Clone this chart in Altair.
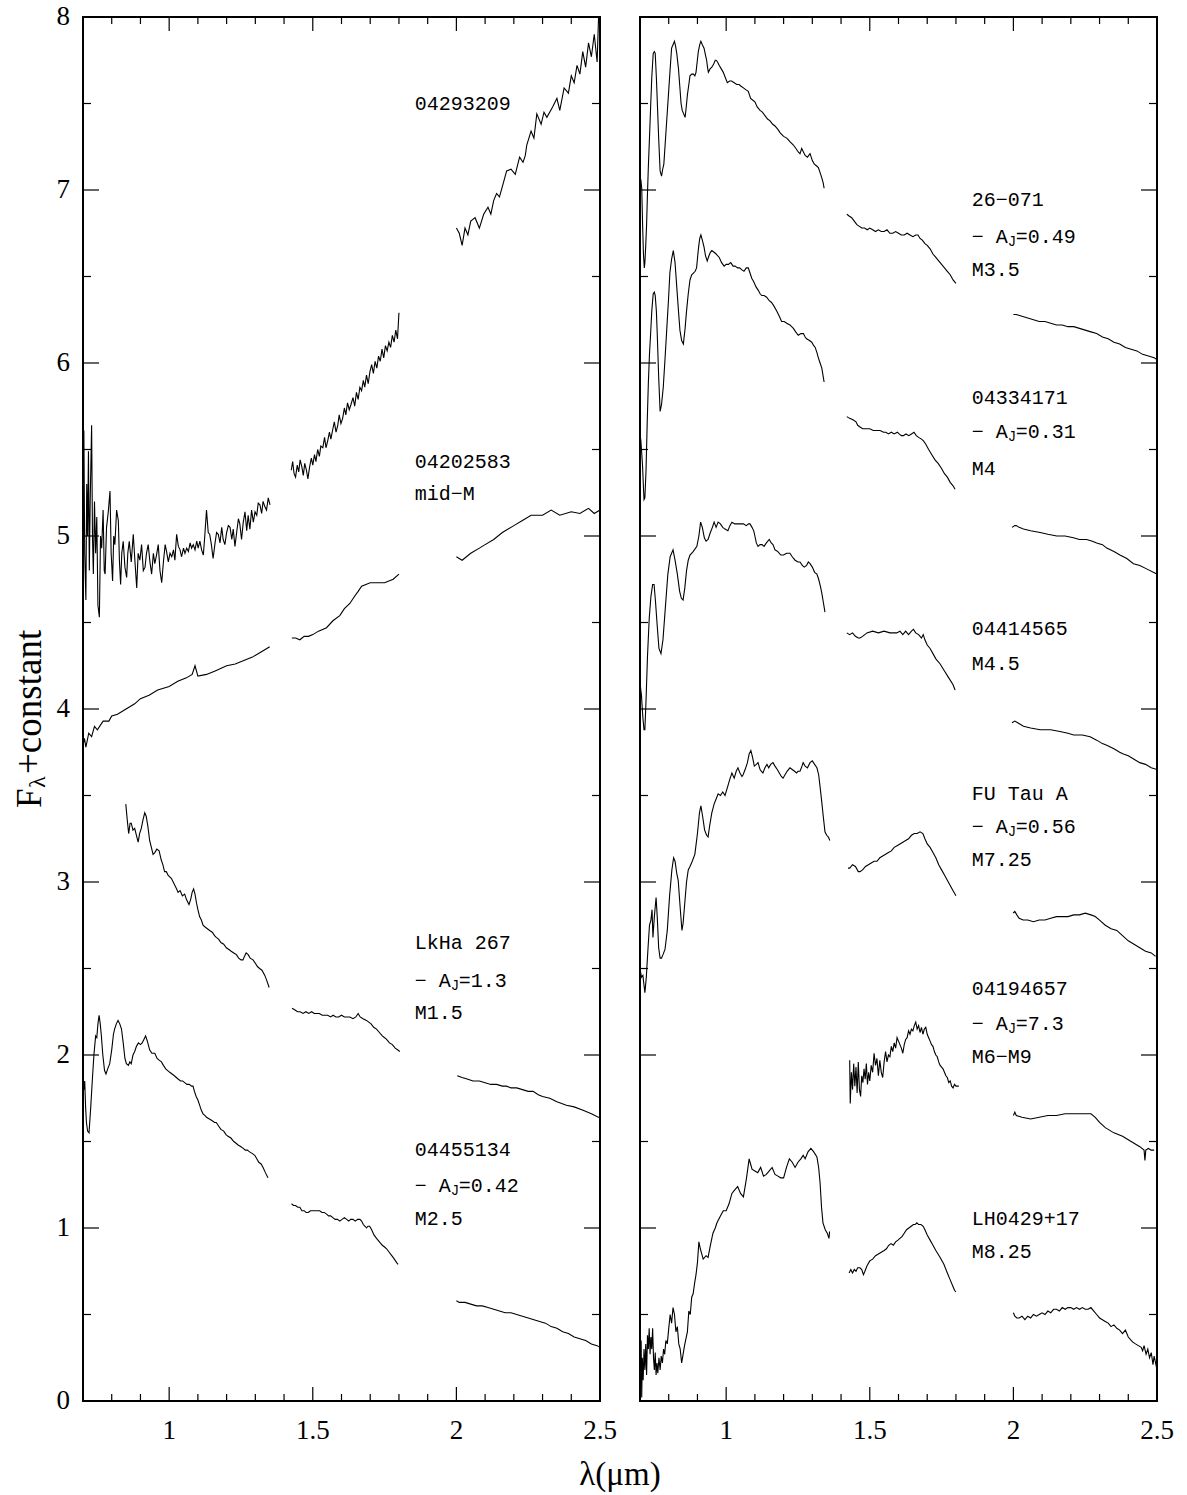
import altair as alt
import pandas as pd

# ---------------- layout constants ----------------
W_PANEL = 517
GAP = 40
H = 1384
X0, X1 = 0.7, 2.5
SPAN = X1 - X0
OFF = SPAN * (W_PANEL + GAP) / W_PANEL
TOTAL_W = 2 * W_PANEL + GAP
XMAX = X0 + SPAN * TOTAL_W / W_PANEL

# ---------------- spectra (wavelength um, F_lambda + constant) ----------------
# Left panel
S04293209_J = [(0.700,5.05),(0.703,5.61),(0.706,4.90),(0.710,4.63),(0.713,5.30),(0.716,5.00),(0.719,5.49),(0.722,4.80),(0.725,5.20),(0.730,5.64),(0.733,5.00),(0.736,4.78),(0.740,5.20),(0.744,4.90),(0.748,5.11),(0.752,4.60),(0.757,4.53),(0.761,5.00),(0.765,4.93),(0.770,5.15),(0.774,4.80),(0.777,4.78),(0.782,5.05),(0.788,5.14),(0.794,5.26),(0.798,4.90),(0.803,4.74),(0.807,5.00),(0.811,4.95),(0.817,5.15),(0.823,5.09),(0.827,4.85),(0.831,4.72),(0.835,4.90),(0.840,4.97),(0.846,4.82),(0.852,4.76),(0.856,4.90),(0.861,4.97),(0.868,4.85),(0.875,5.01),(0.881,4.85),(0.887,4.70),(0.892,4.90),(0.898,4.86),(0.904,4.95),(0.910,4.80),(0.916,4.82),(0.921,4.90),(0.927,4.95),(0.933,4.85),(0.939,4.78),(0.945,4.90),(0.950,4.84),(0.956,4.89),(0.962,4.95),(0.968,4.80),(0.974,4.73),(0.980,4.85),(0.986,4.95),(0.991,4.91),(0.997,4.85),(1.003,4.90),(1.009,4.88),(1.015,4.92),(1.020,4.86),(1.026,5.01),(1.032,4.94),(1.038,4.92),(1.043,4.88),(1.050,4.93),(1.055,4.90),(1.061,4.93),(1.067,4.91),(1.073,4.96),(1.078,4.93),(1.084,4.95),(1.090,4.92),(1.096,4.97),(1.101,4.93),(1.107,4.97),(1.113,4.92),(1.119,4.89),(1.124,5.00),(1.130,5.15),(1.136,5.02),(1.141,5.01),(1.147,4.95),(1.153,4.87),(1.159,4.95),(1.165,5.02),(1.171,5.01),(1.177,4.96),(1.183,5.05),(1.188,4.98),(1.194,4.95),(1.200,5.02),(1.206,5.06),(1.212,5.05),(1.218,4.98),(1.223,5.04),(1.229,4.94),(1.235,5.02),(1.241,5.10),(1.246,5.07),(1.252,4.98),(1.258,5.08),(1.264,5.14),(1.270,5.03),(1.275,5.12),(1.281,5.04),(1.287,5.15),(1.293,5.08),(1.299,5.14),(1.305,5.12),(1.310,5.19),(1.316,5.18),(1.322,5.13),(1.327,5.20),(1.333,5.17),(1.339,5.15),(1.345,5.22),(1.351,5.18)]
S04293209_H = [(1.425,5.38),(1.430,5.43),(1.435,5.36),(1.440,5.34),(1.446,5.41),(1.451,5.37),(1.456,5.44),(1.462,5.40),(1.467,5.35),(1.472,5.42),(1.478,5.38),(1.483,5.33),(1.489,5.40),(1.495,5.45),(1.500,5.41),(1.506,5.47),(1.511,5.43),(1.517,5.50),(1.523,5.46),(1.528,5.52),(1.535,5.51),(1.541,5.57),(1.546,5.51),(1.552,5.55),(1.558,5.60),(1.563,5.56),(1.570,5.62),(1.575,5.66),(1.581,5.60),(1.587,5.64),(1.592,5.70),(1.598,5.65),(1.604,5.68),(1.610,5.74),(1.615,5.70),(1.621,5.77),(1.627,5.73),(1.633,5.76),(1.640,5.80),(1.646,5.75),(1.652,5.83),(1.658,5.79),(1.664,5.86),(1.670,5.84),(1.676,5.90),(1.681,5.86),(1.687,5.93),(1.693,5.88),(1.699,5.95),(1.705,5.99),(1.711,5.94),(1.717,6.01),(1.723,5.97),(1.729,6.04),(1.735,6.01),(1.741,6.08),(1.747,6.03),(1.753,6.10),(1.759,6.07),(1.765,6.12),(1.771,6.09),(1.777,6.16),(1.783,6.12),(1.789,6.19),(1.795,6.14),(1.800,6.29)]
S04293209_K = [(2.000,6.78),(2.010,6.75),(2.020,6.68),(2.030,6.78),(2.040,6.74),(2.050,6.82),(2.065,6.84),(2.080,6.78),(2.095,6.86),(2.110,6.90),(2.120,6.86),(2.130,6.94),(2.140,6.98),(2.150,6.96),(2.165,7.05),(2.175,7.11),(2.190,7.12),(2.205,7.09),(2.220,7.19),(2.232,7.16),(2.240,7.20),(2.245,7.26),(2.260,7.34),(2.270,7.30),(2.280,7.44),(2.295,7.38),(2.305,7.45),(2.315,7.42),(2.335,7.48),(2.350,7.53),(2.360,7.46),(2.375,7.59),(2.390,7.56),(2.400,7.66),(2.410,7.62),(2.420,7.72),(2.430,7.67),(2.440,7.80),(2.450,7.71),(2.460,7.85),(2.470,7.77),(2.480,7.90),(2.490,7.74),(2.495,8.00),(2.500,7.95)]

S04202583_J = [(0.700,3.79),(0.705,3.83),(0.710,3.78),(0.720,3.86),(0.730,3.84),(0.740,3.90),(0.750,3.88),(0.770,3.93),(0.790,3.93),(0.800,3.96),(0.820,3.97),(0.850,4.00),(0.880,4.03),(0.900,4.06),(0.930,4.08),(0.960,4.11),(1.000,4.13),(1.030,4.16),(1.060,4.18),(1.080,4.20),(1.090,4.25),(1.100,4.19),(1.130,4.20),(1.160,4.22),(1.200,4.25),(1.230,4.26),(1.260,4.28),(1.290,4.30),(1.320,4.33),(1.350,4.36)]
S04202583_H = [(1.427,4.41),(1.440,4.41),(1.455,4.40),(1.470,4.42),(1.485,4.42),(1.500,4.43),(1.520,4.45),(1.548,4.47),(1.570,4.51),(1.594,4.54),(1.610,4.58),(1.629,4.61),(1.645,4.65),(1.658,4.68),(1.670,4.71),(1.685,4.72),(1.700,4.73),(1.720,4.73),(1.750,4.73),(1.780,4.75),(1.800,4.78)]
S04202583_K = [(2.000,4.88),(2.020,4.86),(2.050,4.90),(2.080,4.93),(2.100,4.95),(2.130,4.98),(2.160,5.02),(2.200,5.06),(2.230,5.09),(2.260,5.12),(2.300,5.12),(2.330,5.15),(2.360,5.12),(2.400,5.14),(2.430,5.13),(2.460,5.16),(2.480,5.13),(2.500,5.15)]

LKHA267_J = [(0.849,3.45),(0.854,3.36),(0.859,3.28),(0.864,3.34),(0.868,3.34),(0.874,3.30),(0.880,3.31),(0.886,3.27),(0.892,3.23),(0.897,3.28),(0.903,3.31),(0.909,3.36),(0.915,3.40),(0.920,3.38),(0.926,3.32),(0.932,3.24),(0.938,3.20),(0.944,3.16),(0.950,3.17),(0.957,3.19),(0.965,3.18),(0.972,3.13),(0.978,3.10),(0.984,3.06),(0.990,3.06),(0.996,3.04),(1.002,3.03),(1.008,3.02),(1.014,3.00),(1.020,2.98),(1.026,2.96),(1.031,2.94),(1.038,2.95),(1.046,2.92),(1.054,2.93),(1.060,2.90),(1.069,2.87),(1.075,2.90),(1.080,2.94),(1.085,2.96),(1.090,2.93),(1.095,2.88),(1.100,2.84),(1.106,2.80),(1.112,2.78),(1.118,2.75),(1.125,2.74),(1.133,2.73),(1.141,2.72),(1.150,2.71),(1.158,2.69),(1.164,2.68),(1.172,2.67),(1.180,2.65),(1.190,2.64),(1.199,2.62),(1.208,2.61),(1.216,2.60),(1.225,2.59),(1.234,2.58),(1.242,2.56),(1.250,2.55),(1.257,2.55),(1.262,2.57),(1.268,2.59),(1.275,2.58),(1.282,2.56),(1.292,2.55),(1.300,2.53),(1.308,2.51),(1.315,2.50),(1.323,2.49),(1.333,2.46),(1.340,2.43),(1.348,2.39)]
LKHA267_H = [(1.428,2.27),(1.438,2.26),(1.447,2.25),(1.456,2.25),(1.466,2.24),(1.476,2.25),(1.486,2.24),(1.496,2.25),(1.505,2.24),(1.513,2.24),(1.523,2.24),(1.533,2.23),(1.543,2.23),(1.552,2.23),(1.562,2.22),(1.571,2.23),(1.580,2.22),(1.590,2.22),(1.600,2.23),(1.610,2.22),(1.620,2.22),(1.629,2.22),(1.640,2.21),(1.650,2.22),(1.658,2.24),(1.665,2.22),(1.675,2.21),(1.687,2.20),(1.695,2.19),(1.703,2.18),(1.712,2.16),(1.722,2.15),(1.732,2.13),(1.742,2.11),(1.750,2.10),(1.757,2.09),(1.767,2.07),(1.777,2.06),(1.787,2.04),(1.795,2.03),(1.803,2.02)]
LKHA267_K = [(2.003,1.88),(2.020,1.87),(2.040,1.86),(2.058,1.85),(2.080,1.85),(2.100,1.84),(2.120,1.83),(2.140,1.83),(2.160,1.82),(2.174,1.82),(2.190,1.81),(2.210,1.81),(2.230,1.80),(2.250,1.79),(2.267,1.79),(2.285,1.77),(2.300,1.76),(2.325,1.75),(2.350,1.73),(2.383,1.71),(2.410,1.70),(2.441,1.68),(2.470,1.66),(2.494,1.64),(2.500,1.64)]

S04455134_J = [(0.700,1.87),(0.703,1.80),(0.706,1.85),(0.709,1.70),(0.712,1.61),(0.716,1.56),(0.721,1.55),(0.727,1.70),(0.733,1.87),(0.738,2.00),(0.744,2.11),(0.748,2.10),(0.752,2.18),(0.756,2.23),(0.760,2.18),(0.764,2.11),(0.769,2.00),(0.775,1.91),(0.780,1.89),(0.786,1.92),(0.793,1.95),(0.800,2.03),(0.806,2.12),(0.810,2.15),(0.816,2.18),(0.822,2.20),(0.828,2.18),(0.834,2.15),(0.840,2.07),(0.846,1.98),(0.851,1.95),(0.858,1.94),(0.863,1.96),(0.868,1.95),(0.874,2.00),(0.880,2.02),(0.886,2.05),(0.893,2.07),(0.900,2.06),(0.906,2.07),(0.912,2.09),(0.918,2.11),(0.924,2.08),(0.932,2.03),(0.940,2.01),(0.950,2.01),(0.958,1.98),(0.965,1.97),(0.973,1.96),(0.980,1.94),(0.988,1.92),(0.995,1.91),(1.002,1.90),(1.010,1.89),(1.018,1.88),(1.025,1.87),(1.032,1.86),(1.040,1.85),(1.047,1.85),(1.054,1.84),(1.062,1.83),(1.070,1.83),(1.078,1.82),(1.083,1.82),(1.088,1.79),(1.094,1.76),(1.100,1.74),(1.106,1.71),(1.112,1.68),(1.118,1.66),(1.125,1.65),(1.130,1.64),(1.140,1.63),(1.150,1.62),(1.158,1.61),(1.164,1.61),(1.172,1.59),(1.180,1.57),(1.190,1.56),(1.198,1.54),(1.205,1.53),(1.215,1.52),(1.225,1.50),(1.233,1.49),(1.240,1.48),(1.250,1.47),(1.258,1.46),(1.265,1.45),(1.272,1.45),(1.280,1.44),(1.290,1.43),(1.298,1.42),(1.305,1.40),(1.312,1.38),(1.320,1.37),(1.327,1.35),(1.335,1.32),(1.344,1.29)]
S04455134_H = [(1.426,1.14),(1.433,1.13),(1.440,1.13),(1.448,1.12),(1.455,1.12),(1.462,1.10),(1.470,1.10),(1.477,1.09),(1.484,1.09),(1.492,1.10),(1.500,1.10),(1.510,1.10),(1.518,1.10),(1.524,1.10),(1.532,1.09),(1.540,1.09),(1.548,1.08),(1.555,1.07),(1.562,1.07),(1.570,1.06),(1.578,1.05),(1.586,1.05),(1.594,1.04),(1.602,1.05),(1.610,1.06),(1.618,1.05),(1.625,1.04),(1.632,1.05),(1.640,1.05),(1.648,1.04),(1.656,1.05),(1.664,1.05),(1.670,1.04),(1.676,1.02),(1.682,1.01),(1.687,1.00),(1.692,1.01),(1.698,1.01),(1.705,0.99),(1.713,0.96),(1.722,0.94),(1.732,0.92),(1.742,0.90),(1.750,0.89),(1.757,0.88),(1.766,0.86),(1.775,0.84),(1.784,0.82),(1.792,0.80),(1.797,0.79)]
S04455134_K = [(2.000,0.58),(2.010,0.57),(2.030,0.57),(2.050,0.56),(2.070,0.55),(2.090,0.55),(2.110,0.54),(2.130,0.53),(2.150,0.52),(2.170,0.51),(2.190,0.51),(2.210,0.50),(2.230,0.49),(2.250,0.48),(2.270,0.47),(2.290,0.46),(2.310,0.45),(2.330,0.43),(2.350,0.42),(2.370,0.40),(2.390,0.39),(2.410,0.37),(2.430,0.36),(2.450,0.35),(2.470,0.33),(2.490,0.32),(2.500,0.31)]

# Right panel
S26071_J = [(0.700,7.04),(0.703,7.06),(0.706,7.01),(0.709,6.80),(0.712,6.63),(0.715,6.55),(0.717,6.58),(0.720,6.68),(0.723,6.80),(0.726,6.98),(0.729,7.13),(0.733,7.30),(0.737,7.48),(0.741,7.65),(0.746,7.79),(0.750,7.80),(0.753,7.79),(0.757,7.65),(0.760,7.52),(0.765,7.30),(0.770,7.11),(0.775,7.08),(0.779,7.12),(0.783,7.15),(0.787,7.25),(0.793,7.40),(0.799,7.55),(0.805,7.70),(0.810,7.82),(0.815,7.84),(0.820,7.86),(0.824,7.83),(0.828,7.79),(0.834,7.70),(0.839,7.59),(0.843,7.50),(0.847,7.46),(0.852,7.44),(0.857,7.42),(0.861,7.48),(0.865,7.55),(0.870,7.61),(0.874,7.66),(0.880,7.67),(0.886,7.67),(0.891,7.66),(0.895,7.68),(0.899,7.74),(0.903,7.80),(0.908,7.84),(0.912,7.86),(0.917,7.84),(0.923,7.82),(0.928,7.78),(0.932,7.75),(0.935,7.71),(0.938,7.68),(0.944,7.70),(0.950,7.71),(0.957,7.73),(0.962,7.75),(0.965,7.75),(0.970,7.74),(0.976,7.72),(0.983,7.70),(0.990,7.68),(0.997,7.65),(1.004,7.62),(1.012,7.63),(1.019,7.63),(1.028,7.62),(1.037,7.61),(1.045,7.61),(1.052,7.60),(1.060,7.59),(1.068,7.58),(1.077,7.57),(1.081,7.55),(1.085,7.53),(1.092,7.52),(1.100,7.51),(1.108,7.48),(1.118,7.46),(1.126,7.45),(1.135,7.43),(1.144,7.41),(1.153,7.40),(1.162,7.38),(1.170,7.37),(1.180,7.35),(1.188,7.33),(1.200,7.31),(1.211,7.30),(1.222,7.28),(1.234,7.26),(1.243,7.24),(1.251,7.22),(1.257,7.21),(1.263,7.24),(1.269,7.22),(1.275,7.20),(1.283,7.19),(1.292,7.21),(1.300,7.17),(1.307,7.15),(1.314,7.14),(1.321,7.13),(1.327,7.10),(1.333,7.07),(1.338,7.04),(1.341,7.01)]
S26071_H = [(1.420,6.86),(1.428,6.85),(1.437,6.84),(1.446,6.82),(1.455,6.80),(1.464,6.79),(1.472,6.78),(1.482,6.78),(1.491,6.77),(1.500,6.78),(1.510,6.77),(1.520,6.76),(1.530,6.77),(1.540,6.76),(1.550,6.76),(1.560,6.77),(1.570,6.75),(1.580,6.75),(1.590,6.76),(1.600,6.75),(1.610,6.74),(1.620,6.74),(1.630,6.75),(1.640,6.74),(1.650,6.73),(1.660,6.74),(1.668,6.74),(1.675,6.72),(1.683,6.71),(1.692,6.69),(1.700,6.68),(1.710,6.66),(1.720,6.63),(1.730,6.61),(1.740,6.59),(1.750,6.57),(1.760,6.55),(1.770,6.53),(1.780,6.51),(1.790,6.48),(1.800,6.46)]
S26071_K = [(2.000,6.28),(2.010,6.28),(2.030,6.27),(2.050,6.26),(2.070,6.25),(2.090,6.24),(2.110,6.24),(2.130,6.23),(2.150,6.22),(2.170,6.22),(2.190,6.21),(2.210,6.21),(2.230,6.20),(2.250,6.19),(2.270,6.18),(2.290,6.17),(2.310,6.15),(2.330,6.14),(2.350,6.12),(2.370,6.11),(2.390,6.09),(2.410,6.08),(2.430,6.07),(2.450,6.05),(2.470,6.04),(2.490,6.03),(2.500,6.02)]

S04334171_J = [(0.700,5.59),(0.703,5.55),(0.706,5.48),(0.709,5.40),(0.712,5.28),(0.714,5.21),(0.717,5.22),(0.721,5.38),(0.725,5.65),(0.729,5.88),(0.733,6.05),(0.737,6.17),(0.741,6.30),(0.746,6.40),(0.750,6.41),(0.753,6.39),(0.757,6.30),(0.760,6.17),(0.765,5.92),(0.770,5.72),(0.775,5.76),(0.781,5.86),(0.787,6.02),(0.793,6.19),(0.799,6.36),(0.804,6.52),(0.810,6.60),(0.816,6.65),(0.822,6.58),(0.828,6.44),(0.834,6.30),(0.839,6.19),(0.845,6.13),(0.851,6.11),(0.857,6.20),(0.862,6.30),(0.868,6.40),(0.874,6.48),(0.880,6.51),(0.886,6.52),(0.892,6.53),(0.897,6.55),(0.901,6.62),(0.904,6.67),(0.908,6.72),(0.912,6.74),(0.917,6.71),(0.923,6.67),(0.928,6.62),(0.934,6.59),(0.940,6.62),(0.945,6.64),(0.950,6.65),(0.958,6.64),(0.965,6.63),(0.970,6.62),(0.976,6.61),(0.984,6.58),(0.993,6.56),(1.000,6.57),(1.008,6.57),(1.016,6.58),(1.024,6.56),(1.031,6.56),(1.040,6.55),(1.047,6.55),(1.054,6.54),(1.062,6.53),(1.070,6.55),(1.077,6.55),(1.083,6.52),(1.089,6.49),(1.096,6.47),(1.104,6.44),(1.112,6.42),(1.118,6.40),(1.124,6.39),(1.132,6.39),(1.141,6.38),(1.150,6.36),(1.158,6.35),(1.166,6.33),(1.176,6.30),(1.185,6.27),(1.193,6.24),(1.202,6.24),(1.211,6.23),(1.222,6.22),(1.234,6.20),(1.242,6.18),(1.251,6.16),(1.260,6.17),(1.269,6.17),(1.275,6.15),(1.280,6.14),(1.290,6.13),(1.298,6.12),(1.305,6.10),(1.310,6.09),(1.316,6.06),(1.321,6.03),(1.327,6.00),(1.333,5.97),(1.337,5.93),(1.341,5.89)]
S04334171_H = [(1.420,5.69),(1.430,5.68),(1.443,5.67),(1.452,5.66),(1.458,5.64),(1.466,5.63),(1.475,5.62),(1.489,5.62),(1.500,5.62),(1.512,5.61),(1.524,5.61),(1.536,5.61),(1.548,5.60),(1.556,5.60),(1.565,5.59),(1.575,5.60),(1.585,5.59),(1.596,5.60),(1.602,5.59),(1.610,5.58),(1.617,5.58),(1.626,5.59),(1.636,5.58),(1.645,5.59),(1.654,5.60),(1.662,5.58),(1.670,5.57),(1.680,5.56),(1.687,5.55),(1.695,5.53),(1.705,5.50),(1.716,5.47),(1.727,5.44),(1.738,5.42),(1.750,5.39),(1.760,5.36),(1.770,5.34),(1.780,5.31),(1.790,5.29),(1.797,5.27)]
S04334171_K = [(1.995,5.05),(2.005,5.06),(2.010,5.06),(2.020,5.05),(2.035,5.04),(2.060,5.03),(2.093,5.02),(2.120,5.01),(2.151,5.00),(2.180,5.00),(2.209,4.99),(2.230,4.98),(2.255,4.98),(2.275,4.97),(2.290,4.96),(2.310,4.95),(2.325,4.93),(2.350,4.91),(2.371,4.89),(2.395,4.87),(2.418,4.84),(2.440,4.83),(2.464,4.81),(2.487,4.79),(2.500,4.78)]

S04414565_J = [(0.700,4.15),(0.705,4.08),(0.710,3.95),(0.714,3.88),(0.717,3.88),(0.721,4.05),(0.726,4.30),(0.732,4.52),(0.738,4.65),(0.744,4.72),(0.749,4.72),(0.754,4.62),(0.760,4.48),(0.766,4.35),(0.773,4.32),(0.780,4.40),(0.788,4.58),(0.797,4.78),(0.805,4.88),(0.815,4.92),(0.822,4.86),(0.830,4.78),(0.838,4.68),(0.844,4.64),(0.850,4.63),(0.856,4.70),(0.862,4.80),(0.868,4.86),(0.874,4.89),(0.885,4.91),(0.898,4.94),(0.905,5.00),(0.911,5.08),(0.917,5.05),(0.924,4.99),(0.930,4.97),(0.937,4.98),(0.945,5.02),(0.952,5.05),(0.958,5.08),(0.965,5.05),(0.972,5.08),(0.980,5.07),(0.988,5.05),(0.996,5.04),(1.006,5.03),(1.013,5.06),(1.020,5.08),(1.030,5.07),(1.040,5.07),(1.050,5.07),(1.060,5.07),(1.070,5.06),(1.078,5.07),(1.083,5.07),(1.090,5.05),(1.096,5.03),(1.100,5.00),(1.105,4.96),(1.111,4.94),(1.118,4.95),(1.125,4.95),(1.132,4.94),(1.140,4.96),(1.150,4.98),(1.157,4.96),(1.163,4.95),(1.170,4.92),(1.180,4.91),(1.190,4.89),(1.200,4.89),(1.210,4.90),(1.222,4.90),(1.230,4.88),(1.240,4.86),(1.250,4.85),(1.257,4.85),(1.265,4.83),(1.272,4.82),(1.280,4.83),(1.286,4.85),(1.292,4.84),(1.300,4.82),(1.308,4.79),(1.316,4.78),(1.322,4.75),(1.328,4.71),(1.333,4.67),(1.338,4.62),(1.344,4.56)]
S04414565_H = [(1.420,4.44),(1.430,4.43),(1.440,4.44),(1.450,4.42),(1.460,4.41),(1.466,4.41),(1.475,4.42),(1.490,4.44),(1.510,4.45),(1.530,4.44),(1.550,4.45),(1.570,4.44),(1.594,4.44),(1.605,4.45),(1.615,4.43),(1.625,4.45),(1.635,4.43),(1.645,4.45),(1.652,4.46),(1.660,4.44),(1.670,4.43),(1.680,4.41),(1.686,4.43),(1.692,4.40),(1.700,4.37),(1.710,4.35),(1.720,4.32),(1.730,4.29),(1.745,4.26),(1.760,4.22),(1.775,4.18),(1.790,4.14),(1.797,4.11)]
S04414565_K = [(1.995,3.92),(2.005,3.93),(2.015,3.92),(2.035,3.90),(2.060,3.89),(2.093,3.88),(2.130,3.88),(2.162,3.87),(2.190,3.86),(2.210,3.85),(2.240,3.85),(2.267,3.84),(2.290,3.82),(2.310,3.80),(2.325,3.79),(2.350,3.77),(2.370,3.75),(2.383,3.74),(2.400,3.73),(2.420,3.71),(2.440,3.69),(2.460,3.68),(2.480,3.66),(2.500,3.65)]

FUTAUA_J = [(0.700,2.50),(0.705,2.45),(0.710,2.46),(0.717,2.36),(0.722,2.45),(0.728,2.62),(0.733,2.75),(0.738,2.78),(0.742,2.84),(0.745,2.68),(0.750,2.80),(0.756,2.91),(0.760,2.80),(0.765,2.62),(0.770,2.56),(0.775,2.56),(0.780,2.58),(0.787,2.61),(0.795,2.72),(0.803,2.92),(0.811,3.07),(0.817,3.14),(0.822,3.12),(0.828,3.05),(0.833,3.01),(0.840,2.85),(0.846,2.72),(0.850,2.76),(0.856,2.88),(0.862,3.00),(0.868,3.07),(0.874,3.09),(0.882,3.12),(0.891,3.16),(0.900,3.28),(0.907,3.40),(0.912,3.44),(0.918,3.38),(0.925,3.30),(0.932,3.27),(0.937,3.26),(0.943,3.33),(0.950,3.40),(0.958,3.45),(0.965,3.48),(0.972,3.51),(0.980,3.50),(0.988,3.52),(0.996,3.50),(1.005,3.55),(1.012,3.59),(1.020,3.63),(1.028,3.60),(1.035,3.64),(1.041,3.66),(1.048,3.63),(1.055,3.61),(1.059,3.62),(1.066,3.65),(1.074,3.69),(1.080,3.74),(1.086,3.76),(1.092,3.72),(1.098,3.67),(1.105,3.68),(1.111,3.69),(1.118,3.65),(1.123,3.64),(1.128,3.63),(1.135,3.66),(1.142,3.68),(1.148,3.66),(1.155,3.68),(1.163,3.69),(1.170,3.67),(1.178,3.65),(1.185,3.63),(1.192,3.61),(1.198,3.60),(1.205,3.62),(1.212,3.64),(1.222,3.66),(1.230,3.65),(1.238,3.64),(1.245,3.63),(1.250,3.64),(1.257,3.64),(1.262,3.66),(1.268,3.69),(1.275,3.67),(1.283,3.66),(1.292,3.69),(1.300,3.70),(1.308,3.68),(1.316,3.66),(1.322,3.62),(1.327,3.55),(1.333,3.46),(1.338,3.38),(1.344,3.29),(1.350,3.27),(1.356,3.26),(1.361,3.24)]
FUTAUA_H = [(1.424,3.08),(1.430,3.08),(1.440,3.10),(1.450,3.09),(1.460,3.06),(1.466,3.06),(1.475,3.07),(1.485,3.09),(1.495,3.10),(1.505,3.11),(1.515,3.12),(1.525,3.12),(1.535,3.14),(1.545,3.15),(1.555,3.16),(1.565,3.17),(1.575,3.18),(1.585,3.20),(1.595,3.21),(1.605,3.22),(1.615,3.23),(1.625,3.24),(1.635,3.25),(1.645,3.27),(1.655,3.28),(1.665,3.28),(1.675,3.29),(1.685,3.28),(1.692,3.25),(1.700,3.22),(1.710,3.20),(1.720,3.17),(1.730,3.14),(1.740,3.10),(1.750,3.07),(1.760,3.04),(1.770,3.01),(1.780,2.98),(1.790,2.95),(1.800,2.92)]
FUTAUA_K = [(1.999,2.82),(2.005,2.83),(2.012,2.81),(2.020,2.79),(2.034,2.78),(2.050,2.78),(2.070,2.77),(2.090,2.78),(2.110,2.78),(2.130,2.79),(2.150,2.80),(2.170,2.80),(2.190,2.80),(2.210,2.81),(2.230,2.81),(2.250,2.82),(2.270,2.81),(2.285,2.80),(2.300,2.78),(2.320,2.75),(2.340,2.73),(2.360,2.72),(2.380,2.69),(2.400,2.66),(2.420,2.64),(2.440,2.62),(2.460,2.60),(2.480,2.59),(2.495,2.57)]

S04194657_H = [(1.430,1.97),(1.432,1.72),(1.436,1.90),(1.440,1.80),(1.444,1.95),(1.448,1.82),(1.452,1.93),(1.456,1.78),(1.460,1.96),(1.464,1.80),(1.468,1.76),(1.472,1.88),(1.476,1.84),(1.480,1.92),(1.484,1.86),(1.488,1.95),(1.492,1.83),(1.496,1.90),(1.500,1.85),(1.505,1.94),(1.510,1.90),(1.515,2.01),(1.520,1.94),(1.525,1.98),(1.530,1.88),(1.535,1.97),(1.540,1.90),(1.545,1.87),(1.550,1.96),(1.555,2.02),(1.560,1.96),(1.565,2.00),(1.570,1.99),(1.575,2.05),(1.580,2.02),(1.585,2.07),(1.590,2.04),(1.595,2.10),(1.600,2.08),(1.605,2.06),(1.610,2.04),(1.615,2.01),(1.620,2.06),(1.625,2.09),(1.630,2.10),(1.635,2.14),(1.640,2.12),(1.645,2.15),(1.650,2.14),(1.655,2.17),(1.660,2.19),(1.665,2.15),(1.670,2.17),(1.675,2.13),(1.680,2.16),(1.685,2.12),(1.690,2.15),(1.695,2.16),(1.700,2.12),(1.705,2.10),(1.710,2.08),(1.715,2.06),(1.720,2.05),(1.725,2.02),(1.730,2.00),(1.735,1.99),(1.740,1.96),(1.745,1.94),(1.750,1.93),(1.755,1.92),(1.760,1.90),(1.765,1.88),(1.770,1.87),(1.775,1.84),(1.780,1.85),(1.785,1.82),(1.790,1.81),(1.795,1.83),(1.800,1.82),(1.810,1.82)]
S04194657_K = [(2.000,1.65),(2.005,1.67),(2.010,1.65),(2.030,1.64),(2.060,1.63),(2.090,1.64),(2.120,1.65),(2.150,1.65),(2.180,1.66),(2.210,1.66),(2.240,1.66),(2.270,1.66),(2.285,1.64),(2.300,1.61),(2.320,1.58),(2.350,1.55),(2.380,1.53),(2.410,1.50),(2.440,1.47),(2.455,1.45),(2.458,1.39),(2.461,1.45),(2.470,1.46),(2.480,1.45),(2.490,1.45)]

LH0429_J = [(0.700,0.30),(0.702,0.10),(0.704,0.35),(0.706,0.02),(0.708,0.25),(0.711,0.12),(0.714,0.30),(0.717,0.18),(0.720,0.33),(0.723,0.15),(0.726,0.38),(0.729,0.30),(0.732,0.42),(0.735,0.27),(0.738,0.37),(0.741,0.30),(0.744,0.42),(0.747,0.25),(0.750,0.18),(0.753,0.28),(0.756,0.15),(0.759,0.22),(0.762,0.16),(0.766,0.25),(0.770,0.18),(0.774,0.26),(0.778,0.22),(0.782,0.30),(0.786,0.27),(0.790,0.35),(0.795,0.33),(0.800,0.42),(0.805,0.50),(0.810,0.45),(0.815,0.54),(0.820,0.50),(0.825,0.40),(0.830,0.43),(0.835,0.33),(0.840,0.30),(0.845,0.22),(0.850,0.27),(0.855,0.32),(0.860,0.36),(0.865,0.40),(0.870,0.52),(0.875,0.50),(0.880,0.60),(0.885,0.62),(0.890,0.68),(0.895,0.73),(0.900,0.80),(0.905,0.92),(0.910,0.88),(0.915,0.85),(0.920,0.82),(0.930,0.84),(0.937,0.83),(0.945,0.90),(0.954,0.97),(0.962,1.00),(0.968,1.03),(0.980,1.07),(0.990,1.10),(1.000,1.10),(1.010,1.14),(1.020,1.20),(1.030,1.22),(1.040,1.24),(1.050,1.20),(1.060,1.18),(1.070,1.28),(1.080,1.40),(1.085,1.37),(1.090,1.34),(1.100,1.33),(1.110,1.32),(1.120,1.35),(1.130,1.30),(1.140,1.31),(1.150,1.33),(1.160,1.35),(1.170,1.31),(1.180,1.30),(1.190,1.29),(1.200,1.29),(1.210,1.35),(1.220,1.40),(1.230,1.38),(1.240,1.35),(1.250,1.38),(1.260,1.40),(1.268,1.42),(1.275,1.40),(1.285,1.44),(1.295,1.46),(1.305,1.44),(1.316,1.41),(1.322,1.35),(1.327,1.26),(1.332,1.12),(1.337,1.03),(1.345,0.99),(1.352,0.97),(1.358,0.94),(1.360,0.98)]
LH0429_H = [(1.428,0.74),(1.434,0.76),(1.440,0.74),(1.446,0.76),(1.452,0.75),(1.458,0.77),(1.466,0.77),(1.472,0.76),(1.478,0.73),(1.483,0.75),(1.490,0.78),(1.500,0.81),(1.510,0.82),(1.520,0.84),(1.530,0.85),(1.540,0.86),(1.550,0.87),(1.558,0.88),(1.566,0.90),(1.574,0.91),(1.582,0.90),(1.590,0.92),(1.598,0.93),(1.605,0.94),(1.612,0.95),(1.620,0.97),(1.628,0.99),(1.636,1.00),(1.644,1.01),(1.652,1.02),(1.658,1.02),(1.664,1.03),(1.670,1.02),(1.678,1.02),(1.686,1.01),(1.692,0.99),(1.700,0.96),(1.710,0.93),(1.720,0.90),(1.730,0.87),(1.745,0.83),(1.758,0.79),(1.770,0.74),(1.780,0.70),(1.790,0.66),(1.795,0.64),(1.800,0.63)]
LH0429_K = [(2.000,0.51),(2.005,0.49),(2.012,0.48),(2.020,0.48),(2.030,0.49),(2.040,0.47),(2.050,0.49),(2.060,0.48),(2.070,0.50),(2.080,0.49),(2.090,0.50),(2.100,0.51),(2.110,0.50),(2.120,0.52),(2.130,0.51),(2.140,0.53),(2.150,0.53),(2.160,0.52),(2.170,0.54),(2.180,0.53),(2.190,0.54),(2.200,0.54),(2.210,0.53),(2.220,0.54),(2.230,0.53),(2.240,0.54),(2.250,0.53),(2.260,0.53),(2.270,0.54),(2.280,0.52),(2.290,0.50),(2.300,0.48),(2.310,0.47),(2.320,0.46),(2.330,0.45),(2.340,0.43),(2.350,0.44),(2.360,0.42),(2.370,0.41),(2.380,0.39),(2.390,0.41),(2.400,0.37),(2.410,0.35),(2.416,0.34),(2.425,0.33),(2.435,0.32),(2.445,0.31),(2.450,0.29),(2.455,0.32),(2.462,0.27),(2.468,0.30),(2.474,0.25),(2.480,0.28),(2.486,0.21),(2.490,0.26),(2.495,0.22),(2.500,0.18)]

LEFT_SPECTRA = [
    ("04293209", [S04293209_J, S04293209_H, S04293209_K]),
    ("04202583", [S04202583_J, S04202583_H, S04202583_K]),
    ("LkHa 267", [LKHA267_J, LKHA267_H, LKHA267_K]),
    ("04455134", [S04455134_J, S04455134_H, S04455134_K]),
]
RIGHT_SPECTRA = [
    ("26-071", [S26071_J, S26071_H, S26071_K]),
    ("04334171", [S04334171_J, S04334171_H, S04334171_K]),
    ("04414565", [S04414565_J, S04414565_H, S04414565_K]),
    ("FU Tau A", [FUTAUA_J, FUTAUA_H, FUTAUA_K]),
    ("04194657", [S04194657_H, S04194657_K]),
    ("LH0429+17", [LH0429_J, LH0429_H, LH0429_K]),
]

# ---------------- labels ----------------
LABEL_WL = 1.855
LABELS_LEFT = [(7.50, "04293209"), (5.43, "04202583"), (5.24, "mid\u2212M"),
               (2.65, "LkHa 267"), (2.24, "M1.5"),
               (1.45, "04455134"), (1.05, "M2.5")]
AJ_LEFT = [(2.43, "1.3"), (1.24, "0.42")]
LABELS_RIGHT = [(6.94, "26\u2212071"), (6.54, "M3.5"),
                (5.80, "04334171"), (5.39, "M4"),
                (4.46, "04414565"), (4.26, "M4.5"),
                (3.51, "FU Tau A"), (3.13, "M7.25"),
                (2.38, "04194657"), (1.99, "M6\u2212M9"),
                (1.05, "LH0429+17"), (0.86, "M8.25")]
AJ_RIGHT = [(6.73, "0.49"), (5.60, "0.31"), (3.32, "0.56"), (2.18, "7.3")]

# ---------------- ticks ----------------
X_TICK_LABELS = [1, 1.5, 2, 2.5]
X_MAJOR = [1.0, 1.5, 2.0]
X_MINOR = [0.8, 0.9, 1.1, 1.2, 1.3, 1.4, 1.6, 1.7, 1.8, 1.9, 2.1, 2.2, 2.3, 2.4]
Y_LABELS = [0, 1, 2, 3, 4, 5, 6, 7, 8]
Y_MAJOR = [1, 2, 3, 4, 5, 6, 7]
Y_MINOR = [0.5, 1.5, 2.5, 3.5, 4.5, 5.5, 6.5, 7.5]

# ---------------- build tables ----------------
rows = []
for panel, group in ((0, LEFT_SPECTRA), (1, RIGHT_SPECTRA)):
    for star, segs in group:
        for i, seg in enumerate(segs):
            for wl, fx in seg:
                rows.append({"key": f"{panel}-{star}-{i}", "wl": wl + panel * OFF, "flux": fx})
spec_df = pd.DataFrame(rows)

lab_rows = []
aj_rows = []
for panel, labs, ajs in ((0, LABELS_LEFT, AJ_LEFT), (1, LABELS_RIGHT, AJ_RIGHT)):
    for y, t in labs:
        lab_rows.append({"x": LABEL_WL + panel * OFF, "y": y, "t": t})
    for y, v in ajs:
        aj_rows.append({"x": LABEL_WL + panel * OFF, "y": y, "pre": "\u2212 A", "sub": "J", "post": "=" + v})
lab_df = pd.DataFrame(lab_rows)
aj_df = pd.DataFrame(aj_rows)

xlab_df = pd.DataFrame({"v": [v + p * OFF for p in (0, 1) for v in X_TICK_LABELS],
                        "t": [f"{v:g}" for p in (0, 1) for v in X_TICK_LABELS]})
ylab_df = pd.DataFrame({"v": Y_LABELS, "t": [str(v) for v in Y_LABELS]})
xmaj_df = pd.DataFrame({"v": [v + p * OFF for p in (0, 1) for v in X_MAJOR]})
xmin_df = pd.DataFrame({"v": [v + p * OFF for p in (0, 1) for v in X_MINOR]})
ymaj_df = pd.DataFrame({"v": Y_MAJOR})
ymin_df = pd.DataFrame({"v": Y_MINOR})
one = pd.DataFrame({"a": [0]})

xscale = alt.Scale(domain=[X0, XMAX], nice=False, zero=False)
yscale = alt.Scale(domain=[0, 8], nice=False, zero=False)

SERIF = "Liberation Serif"
MONO = "Liberation Mono"

lines = alt.Chart(spec_df).mark_line(color="black", strokeWidth=1.1, clip=True).encode(
    x=alt.X("wl:Q", scale=xscale, axis=None),
    y=alt.Y("flux:Q", scale=yscale, axis=None),
    detail="key:N",
    order="wl:Q",
)

layers = [lines]

def xticks(df, length):
    base = alt.Chart(df).mark_rule(color="black", strokeWidth=1.2)
    xenc = alt.X("v:Q", scale=xscale, axis=None)
    return [
        base.encode(x=xenc, y=alt.value(H), y2=alt.value(H - length)),
        base.encode(x=xenc, y=alt.value(0), y2=alt.value(length)),
    ]

def yticks(df, length):
    base = alt.Chart(df).mark_rule(color="black", strokeWidth=1.2)
    yenc = alt.Y("v:Q", scale=yscale, axis=None)
    out = []
    for edge, direction in ((0, 1), (W_PANEL, -1), (W_PANEL + GAP, 1), (TOTAL_W, -1)):
        out.append(base.encode(y=yenc, x=alt.value(edge), x2=alt.value(edge + direction * length)))
    return out

layers += xticks(xmaj_df, 14) + xticks(xmin_df, 7) + yticks(ymaj_df, 16) + yticks(ymin_df, 8)

# panel frames
for left in (0, W_PANEL + GAP):
    layers.append(alt.Chart(one).mark_rect(fillOpacity=0, stroke="black", strokeWidth=2).encode(
        x=alt.value(left), x2=alt.value(left + W_PANEL), y=alt.value(0), y2=alt.value(H)))

# tick labels
layers.append(alt.Chart(xlab_df).mark_text(align="center", baseline="middle", font=SERIF, fontSize=27, color="black").encode(
    x=alt.X("v:Q", scale=xscale, axis=None), y=alt.value(H + 30), text="t:N"))
layers.append(alt.Chart(ylab_df).mark_text(align="right", baseline="middle", font=SERIF, fontSize=27, color="black").encode(
    y=alt.Y("v:Q", scale=yscale, axis=None), x=alt.value(-13), text="t:N"))

# star labels
txt_x = alt.X("x:Q", scale=xscale, axis=None)
txt_y = alt.Y("y:Q", scale=yscale, axis=None)
layers.append(alt.Chart(lab_df).mark_text(align="left", baseline="middle", font=MONO, fontSize=20, color="black").encode(
    x=txt_x, y=txt_y, text="t:N"))
layers.append(alt.Chart(aj_df).mark_text(align="left", baseline="middle", font=MONO, fontSize=20, color="black").encode(
    x=txt_x, y=txt_y, text="pre:N"))
layers.append(alt.Chart(aj_df).mark_text(align="left", baseline="middle", font=MONO, fontSize=14, color="black", dx=36, dy=5).encode(
    x=txt_x, y=txt_y, text="sub:N"))
layers.append(alt.Chart(aj_df).mark_text(align="left", baseline="middle", font=MONO, fontSize=20, color="black", dx=44).encode(
    x=txt_x, y=txt_y, text="post:N"))

# axis titles (F_lambda + constant, rotated; lambda(um) centred under both panels)
layers.append(alt.Chart(one).mark_text(text="F", angle=270, align="left", baseline="middle", font=SERIF, fontSize=35, color="black").encode(
    x=alt.value(-53), y=alt.value(791)))
layers.append(alt.Chart(one).mark_text(text="\u03bb", angle=270, align="left", baseline="middle", font=SERIF, fontSize=24, color="black").encode(
    x=alt.value(-45), y=alt.value(771)))
layers.append(alt.Chart(one).mark_text(text="+constant", angle=270, align="left", baseline="middle", font=SERIF, fontSize=37, color="black").encode(
    x=alt.value(-53), y=alt.value(757)))
layers.append(alt.Chart(one).mark_text(text="\u03bb(\u03bcm)", align="center", baseline="middle", font=SERIF, fontSize=33, color="black").encode(
    x=alt.value(537), y=alt.value(1458)))

chart = alt.layer(*layers).properties(
    width=TOTAL_W, height=H,
    padding={"left": 83, "top": 17, "right": 30, "bottom": 94},
    autosize=alt.AutoSizeParams(type="none"),
    background="white",
).configure_view(stroke=None)

chart.save("out.html", embed_options={"renderer": "svg", "actions": False})
